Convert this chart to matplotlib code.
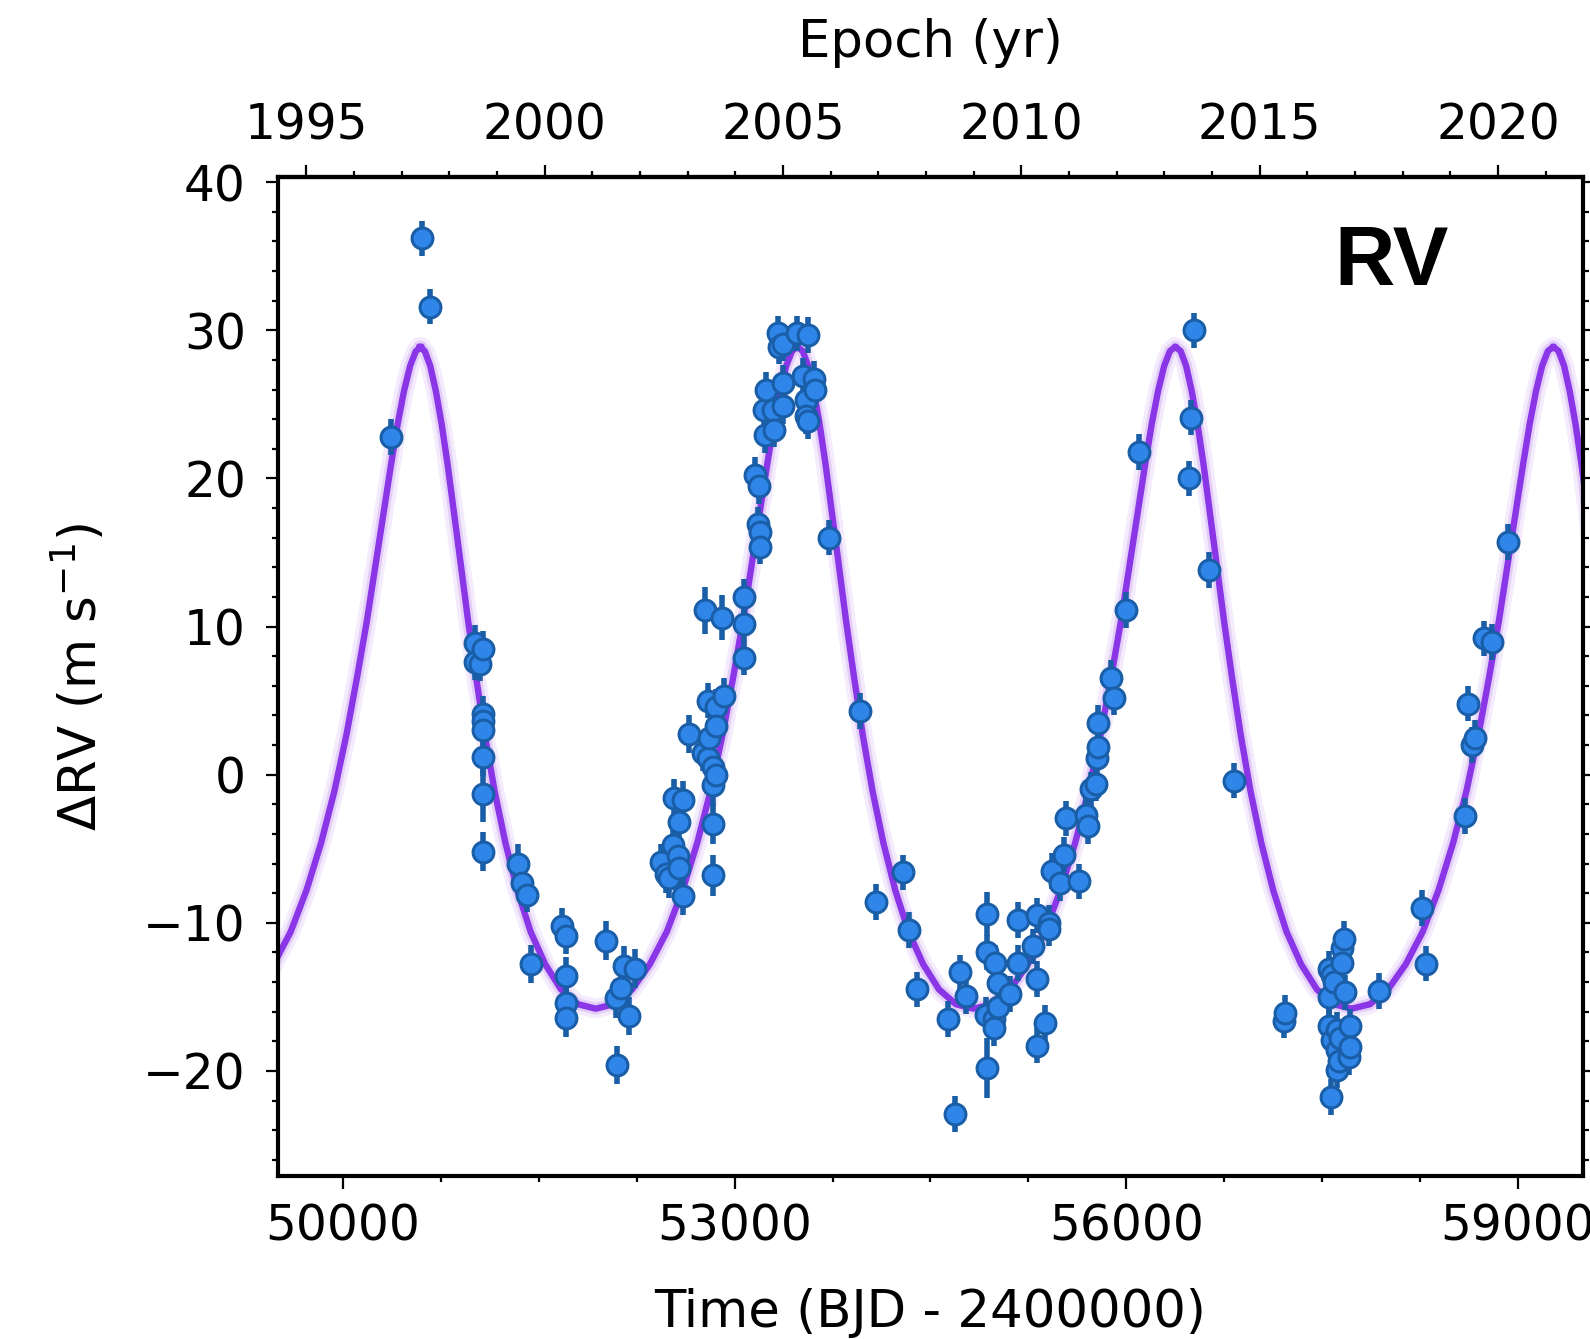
import matplotlib.pyplot as plt
import numpy as np
from matplotlib.ticker import AutoMinorLocator, MultipleLocator

# RV measurements: time (BJD - 2400000), dRV (m/s), error (m/s)
bjd = [50369, 50606, 50668, 51007, 51007, 51050, 51070, 51070, 51070, 51070,
       51070, 51075, 51070, 51338, 51369, 51410, 51441, 51678, 51709, 51709,
       51709, 51709, 52017, 52091, 52101, 52130, 52155, 52188, 52239, 52436,
       52474, 52499, 52525, 52538, 52563, 52576, 52576, 52601, 52601, 52647,
       52754, 52775, 52793, 52793, 52806, 52831, 52831, 52831, 52831, 52857,
       52857, 52857, 52900, 52920, 53073, 53073, 53073, 53155, 53181, 53188,
       53194, 53194, 53227, 53234, 53240, 53290, 53303, 53328, 53341, 53367,
       53367, 53367, 53481, 53520, 53546, 53546, 53558, 53558, 53609, 53617,
       53724, 53961, 54082, 54293, 54337, 54400, 54637, 54689, 54725, 54775,
       54924, 54931, 54931, 54936, 54987, 54987, 54993, 55020, 55020, 55110,
       55171, 55173, 55288, 55314, 55314, 55319, 55378, 55408, 55408, 55434,
       55490, 55523, 55541, 55638, 55689, 55707, 55727, 55770, 55773, 55786,
       55786, 55881, 55906, 56000, 56097, 56480, 56498, 56518, 56638, 56828,
       57207, 57215, 57552, 57552, 57552, 57572, 57577, 57577, 57590, 57615,
       57615, 57615, 57628, 57641, 57653, 57653, 57666, 57680, 57707, 57718,
       57718, 57934, 58266, 58299, 58593, 58618, 58649, 58669, 58738, 58802,
       58924]
rv = [22.8, 36.2, 31.6, 8.9, 7.6, 7.5, 8.5, 4.1, 3.6, 3.0,
      1.2, -1.3, -5.2, -6.0, -7.3, -8.1, -12.8, -10.2, -10.9, -13.6,
      -15.4, -16.4, -11.2, -15.1, -19.6, -14.4, -12.9, -16.3, -13.1, -5.9,
      -6.7, -7.0, -4.75, -1.6, -5.5, -3.2, -6.3, -1.7, -8.2, 2.75,
      1.45, 11.1, 5.0, 1.1, 2.5, 0.5, -0.7, -3.3, -6.8, 4.6,
      3.3, 0.0, 10.6, 5.3, 12.0, 10.2, 7.9, 20.25, 16.9, 19.5,
      16.35, 15.4, 24.6, 22.95, 26.0, 24.6, 23.3, 29.8, 28.9, 29.1,
      26.45, 24.9, 29.8, 26.9, 25.3, 24.2, 29.7, 23.85, 26.7, 26.0,
      16.0, 4.3, -8.6, -6.6, -10.5, -14.5, -16.5, -22.9, -13.35, -14.95,
      -16.2, -9.4, -12.0, -19.8, -16.5, -17.1, -12.7, -14.1, -15.7, -14.8,
      -9.8, -12.7, -11.6, -9.5, -13.8, -18.3, -16.75, -10.0, -10.4, -6.5,
      -7.3, -5.4, -2.95, -7.2, -2.7, -3.5, -1.0, -0.6, 1.1, 1.9,
      3.5, 6.55, 5.2, 11.1, 21.8, 20.0, 24.1, 30.0, 13.8, -0.4,
      -16.6, -16.1, -13.1, -15.0, -17.0, -21.75, -13.5, -17.9, -14.0, -17.25,
      -18.6, -19.95, -19.3, -17.8, -11.7, -12.7, -11.1, -14.7, -19.05, -17.0,
      -18.4, -14.6, -9.0, -12.75, -2.8, 4.8, 2.0, 2.5, 9.2, 8.95,
      15.7]
rv_err = [1.2, 1.2, 1.2, 1.2, 1.2, 1.2, 1.2, 1.2, 1.2, 1.2,
          1.3, 1.9, 1.3, 1.3, 1.2, 1.2, 1.3, 1.2, 1.2, 1.3,
          1.3, 1.3, 1.3, 1.3, 1.3, 1.3, 1.3, 1.3, 1.3, 1.2,
          1.3, 1.3, 1.2, 1.3, 1.2, 1.2, 1.2, 1.3, 1.3, 1.3,
          1.2, 1.6, 1.2, 1.2, 1.2, 1.2, 1.4, 1.4, 1.4, 1.2,
          1.2, 1.2, 1.5, 1.2, 1.2, 1.2, 1.2, 1.2, 1.2, 1.2,
          1.2, 1.2, 1.2, 1.2, 1.2, 1.2, 1.2, 1.2, 1.2, 1.2,
          1.2, 1.2, 1.2, 1.2, 1.2, 1.2, 1.2, 1.2, 1.2, 1.2,
          1.2, 1.2, 1.2, 1.2, 1.2, 1.2, 1.2, 1.2, 1.2, 1.2,
          1.2, 1.5, 1.2, 2.0, 1.2, 1.2, 1.2, 1.2, 1.2, 1.2,
          1.2, 1.2, 1.2, 1.2, 1.2, 1.2, 1.2, 1.2, 1.2, 1.2,
          1.2, 1.2, 1.2, 1.2, 1.2, 1.2, 1.2, 1.2, 1.2, 1.2,
          1.2, 1.2, 1.2, 1.2, 1.2, 1.2, 1.2, 1.2, 1.2, 1.2,
          1.2, 1.2, 1.2, 1.2, 1.2, 1.2, 1.2, 1.2, 1.2, 1.2,
          1.2, 1.2, 1.2, 1.2, 1.2, 1.2, 1.2, 1.2, 1.2, 1.2,
          1.2, 1.2, 1.2, 1.2, 1.2, 1.2, 1.2, 1.2, 1.2, 1.2,
          1.2]

# orbit curve: one cycle, days after RV maximum
model_dt = [0, 43, 85, 128, 172, 219, 267, 319, 375, 436, 503, 578, 661,
            752, 854, 966, 1087, 1217, 1353, 1493, 1632, 1768, 1898, 2019,
            2131, 2233, 2325, 2407, 2482, 2549, 2610, 2666, 2718, 2766,
            2813, 2857, 2900]
model_rv = [28.9, 28.6, 27.6, 25.9, 23.7, 20.9, 17.7, 14.2, 10.4, 6.6, 2.7,
            -1.1, -4.6, -7.8, -10.6, -12.8, -14.5, -15.5, -15.8, -15.5, -14.5,
            -12.8, -10.6, -7.8, -4.6, -1.1, 2.7, 6.6, 10.4, 14.2, 17.7, 20.9,
            23.7, 25.9, 27.6, 28.6, 28.9]
peak_bjd = [47700, 50582, 53478, 56374, 59270]

purple = '#8a35e6'
face = '#2f86e8'
edge = '#1a5ea8'

fig = plt.figure(figsize=(15.9, 13.39), dpi=100)
ax = fig.add_axes([0.1748, 0.1217, 0.8208, 0.7461])

mx = np.concatenate([p + np.array(model_dt) for p in peak_bjd])
my = np.tile(model_rv, len(peak_bjd))
ax.plot(mx, my, color=purple, lw=14, alpha=0.09, zorder=1)
ax.plot(mx, my, color=purple, lw=8.5, alpha=0.16, zorder=1)
ax.plot(mx, my, color=purple, lw=4.6, zorder=2)

ax.errorbar(bjd, rv, yerr=rv_err, fmt='none', ecolor=edge, elinewidth=4,
            capsize=0, zorder=3)
ax.plot(bjd, rv, 'o', ms=15, mfc=face, mec=edge, mew=2.2, zorder=4)

ax.set_xlim(49500, 59500)
ax.set_ylim(-27.1, 40.35)
ax.set_xticks([50000, 53000, 56000, 59000])
ax.xaxis.set_minor_locator(AutoMinorLocator(4))
ax.yaxis.set_major_locator(MultipleLocator(10))
ax.yaxis.set_minor_locator(AutoMinorLocator(5))

ax.tick_params(which='both', direction='out', width=1.6, labelsize=35,
               top=False, right=True)
ax.tick_params(which='major', length=9)
ax.tick_params(which='minor', length=4.5)
ax.tick_params(axis='x', pad=10)
ax.tick_params(axis='y', pad=14)
for s in ax.spines.values():
    s.set_linewidth(3)


def to_year(t):
    return 2000 + (t - 51544.5) / 365.25


def to_bjd(y):
    return 51544.5 + (y - 2000) * 365.25


top = ax.secondary_xaxis('top', functions=(to_year, to_bjd))
top.set_xticks([1995, 2000, 2005, 2010, 2015, 2020])
top.xaxis.set_minor_locator(MultipleLocator(1))
top.tick_params(which='both', direction='out', width=1.6, labelsize=35, pad=11)
top.tick_params(which='major', length=9)
top.tick_params(which='minor', length=4.5)
top.spines['top'].set_linewidth(3)

ax.set_xlabel('Time (BJD - 2400000)', fontsize=37, va='center')
ax.xaxis.set_label_coords(0.5, -0.137)
top.set_xlabel('Epoch (yr)', fontsize=37, va='center')
top.xaxis.set_label_coords(0.5, 1.134, transform=ax.transAxes)
ax.set_ylabel('ΔRV (m s$^{-1}$)', fontsize=37, va='center')
ax.yaxis.set_label_coords(-0.1525, 0.5)

ax.text(0.8536, 0.892, 'RV', transform=ax.transAxes, ha='center',
        va='baseline', fontsize=60, fontweight='bold', family='Liberation Sans')

fig.savefig('out.png', dpi=100)
